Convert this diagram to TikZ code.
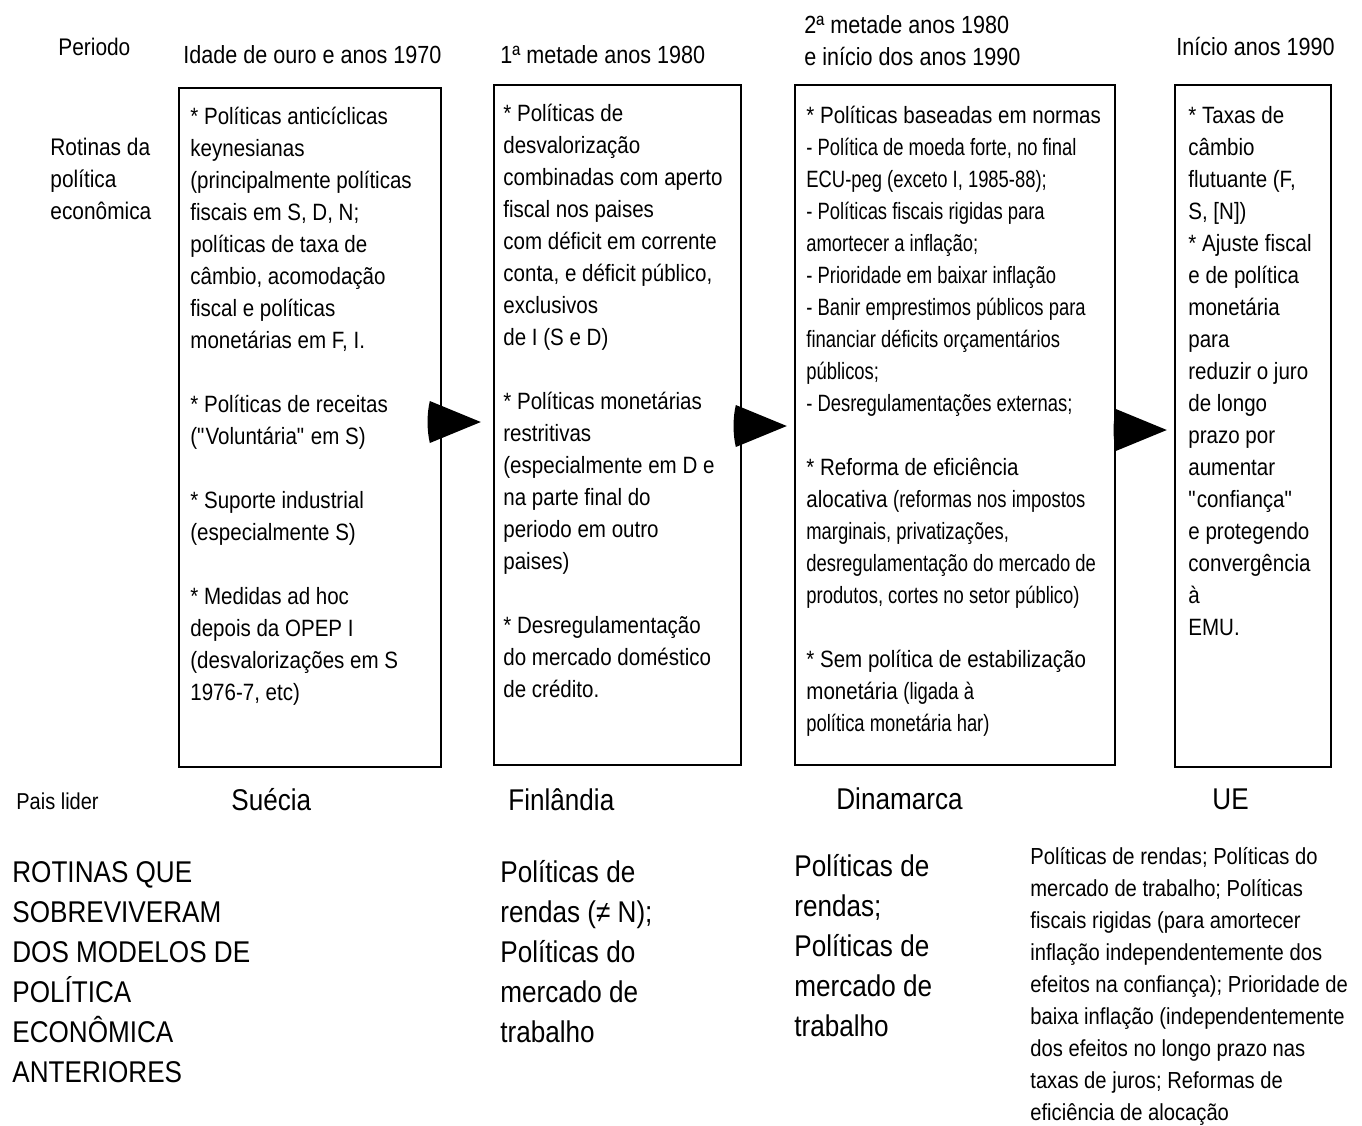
\documentclass[tikz,border=0pt]{standalone}
\usepackage{fontspec}
\setmainfont{Liberation Sans}[FakeStretch=0.87]
\newfontfamily\condfont{Liberation Sans}[FakeStretch=0.78]
\usetikzlibrary{calc}
\newcommand\st[1]{\rule{0pt}{#1pt}}
\newcommand\arrowtri[1]{%
  \fill[black] ($(#1)+(-51,-21)$) -- (#1) -- ($(#1)+(-51,21)$)
    .. controls ($(#1)+(-54,8)$) and ($(#1)+(-54,-8)$) .. cycle;}
\begin{document}
\begin{tikzpicture}[x=0.5pt,y=-0.5pt,
  panel/.style={draw=black,line width=1.2pt,inner sep=0pt},
  txt/.style={anchor=north west,inner sep=0pt,align=left},
  boxtxt/.style={txt,font=\fontsize{11.8}{16}\selectfont},
  headtxt/.style={txt,font=\fontsize{12.4}{16}\selectfont},
  labtxt/.style={txt,font=\fontsize{12}{16}\selectfont},
  countrytxt/.style={txt,font=\fontsize{15}{20}\selectfont},
  bigtxt/.style={txt,font=\fontsize{15}{20}\selectfont},
  uetxt/.style={txt,font=\fontsize{11.6}{16}\selectfont}]
\useasboundingbox[fill=white] (0,0) rectangle (1362,1126);

% panels
\node[panel,minimum width=131pt,minimum height=339.5pt] (b1) at (310,427.5) {};
\node[panel,minimum width=123.5pt,minimum height=340pt] (b2) at (617.5,425) {};
\node[panel,minimum width=160pt,minimum height=340pt] (b3) at (955,425) {};
\node[panel,minimum width=78pt,minimum height=341pt] (b4) at (1253,426) {};

% arrows
\coordinate (t1) at ($(b2.west)+(-12,-3)$);
\coordinate (t2) at ($(b3.west)+(-7,1)$);
\coordinate (t3) at ($(b4.west)+(-7,4)$);
\arrowtri{t1}
\arrowtri{t2}
\arrowtri{t3}

% left labels
\node[labtxt] (lper) at (58,31) {\st{12}Periodo};
\node[labtxt] (lrot) at (50,131.4) {\st{12}Rotinas da\\política\\econômica};
\node[labtxt,font=\fontsize{11.5}{16}\selectfont] (lpais) at (16,785) {\st{12}Pais lider};

% period headers
\node[headtxt] (h1) at (183,38) {\st{12.4}Idade de ouro e anos 1970};
\node[headtxt] (h2) at (500,38) {\st{12.4}1ª metade anos 1980};
\node[headtxt] (h3) at (804,8) {\st{12.4}2ª metade anos 1980\\e início dos anos 1990};
\node[headtxt] (h4) at (1176,30) {\st{12.4}Início anos 1990};

% box texts
\node[boxtxt] (x1) at (190,100.7) {\st{11.8}* Políticas anticíclicas\\
keynesianas\\
(principalmente políticas\\
fiscais em S, D, N;\\
políticas de taxa de\\
câmbio, acomodação\\
fiscal e políticas\\
monetárias em F, I.\\[16pt]
* Políticas de receitas\\
(\textquotedbl Voluntária\textquotedbl{} em S)\\[16pt]
* Suporte industrial\\
(especialmente S)\\[16pt]
* Medidas ad hoc\\
depois da OPEP I\\
(desvalorizações em S\\
1976-7, etc)};

\node[boxtxt] (x2) at (503,97.7) {\st{11.8}* Políticas de\\
desvalorização\\
combinadas com aperto\\
fiscal nos paises\\
com déficit em corrente\\
conta, e déficit público,\\
exclusivos\\
de I (S e D)\\[16pt]
* Políticas monetárias\\
restritivas\\
(especialmente em D e\\
na parte final do\\
periodo em outro\\
paises)\\[16pt]
* Desregulamentação\\
do mercado doméstico\\
de crédito.};

\node[boxtxt] (x3) at (806,99.7) {\st{11.8}* Políticas baseadas em normas\\
{\condfont - Política de moeda forte, no final}\\
{\condfont ECU-peg (exceto I, 1985-88);}\\
{\condfont - Políticas fiscais rigidas para}\\
{\condfont amortecer a inflação;}\\
{\condfont - Prioridade em baixar inflação}\\
{\condfont - Banir emprestimos públicos para}\\
{\condfont financiar déficits orçamentários}\\
{\condfont públicos;}\\
{\condfont - Desregulamentações externas;}\\[16pt]
* Reforma de eficiência\\
alocativa {\condfont (reformas nos impostos}\\
{\condfont marginais, privatizações,}\\
{\condfont desregulamentação do mercado de}\\
{\condfont produtos, cortes no setor público)}\\[16pt]
* Sem política de estabilização\\
monetária {\condfont (ligada à}\\
{\condfont política monetária har)}};

\node[boxtxt] (x4) at (1188,99.7) {\st{11.8}* Taxas de\\
câmbio\\
flutuante (F,\\
S, [N])\\
* Ajuste fiscal\\
e de política\\
monetária\\
para\\
reduzir o juro\\
de longo\\
prazo por\\
aumentar\\
\textquotedbl confiança\textquotedbl\\
e protegendo\\
convergência\\
à\\
EMU.};

% leading countries
\node[countrytxt] (c1) at (231,780.5) {\st{15}Suécia};
\node[countrytxt] (c2) at (508,780.5) {\st{15}Finlândia};
\node[countrytxt] (c3) at (836,779.5) {\st{15}Dinamarca};
\node[countrytxt] (c4) at (1212,779.5) {\st{15}UE};

% surviving routines
\node[bigtxt] (s0) at (12,852.5) {\st{15}ROTINAS QUE\\
SOBREVIVERAM\\
DOS MODELOS DE\\
POLÍTICA\\
ECONÔMICA\\
ANTERIORES};
\node[bigtxt] (s2) at (500,852.5) {\st{15}Políticas de\\
rendas (≠ N);\\
Políticas do\\
mercado de\\
trabalho};
\node[bigtxt] (s3) at (794,846.5) {\st{15}Políticas de\\
rendas;\\
Políticas de\\
mercado de\\
trabalho};
\node[uetxt] (s4) at (1030,841) {\st{11.6}Políticas de rendas; Políticas do\\
mercado de trabalho; Políticas\\
fiscais rigidas (para amortecer\\
inflação independentemente dos\\
efeitos na confiança); Prioridade de\\
baixa inflação (independentemente\\
dos efeitos no longo prazo nas\\
taxas de juros; Reformas de\\
eficiência de alocação};
\end{tikzpicture}
\end{document}
